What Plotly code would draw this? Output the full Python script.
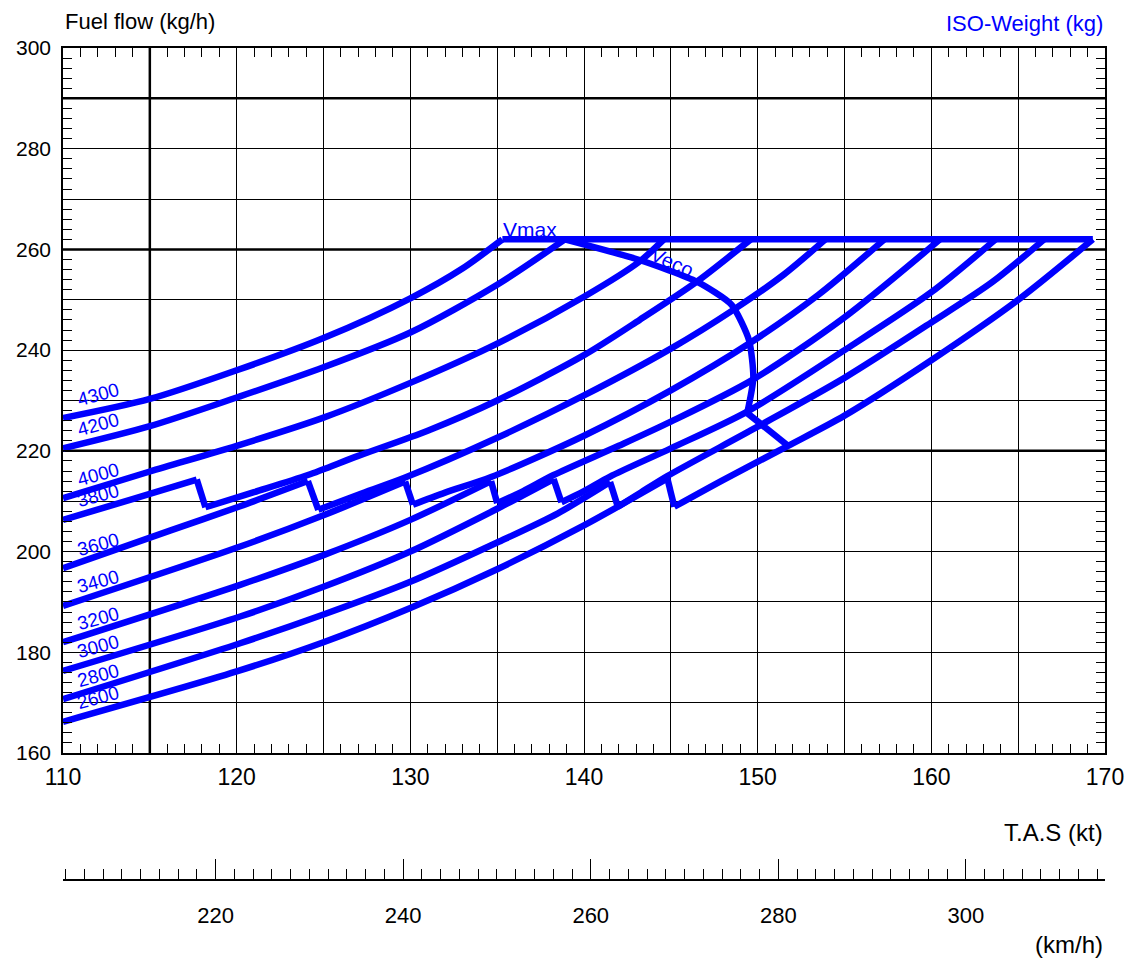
import plotly.graph_objects as go

# ---------------- data ----------------
kt_range = [110, 170]
ff_range = [160, 300]
kt_tickvals = [110, 115, 120, 125, 130, 135, 140, 145, 150, 155, 160, 165, 170]
kt_ticktext = ["110", "", "120", "", "130", "", "140", "", "150", "", "160", "", "170"]
ff_tickvals = [160, 170, 180, 190, 200, 210, 220, 230, 240, 250, 260, 270, 280, 290, 300]
ff_ticktext = ["160", "", "180", "", "200", "", "220", "", "240", "", "260", "", "280", "", "300"]
kmh_tickvals = [220, 240, 260, 280, 300]
KT_TO_KMH = 1.852

weights = ["4300", "4200", "4000", "3800", "3600", "3400", "3200", "3000", "2800", "2600"]

# iso-weight curves: low-speed part (up to the step) and high-speed part (after the step)
w4300_kt = [110, 115, 120, 125, 130, 133, 135.3]
w4300_ff = [226.5, 230.3, 236.0, 242.4, 250.3, 256.2, 262.0]

w4200_kt = [110, 115, 120, 125, 130, 135, 138.9]
w4200_ff = [220.5, 224.9, 230.6, 236.6, 243.5, 253.0, 262.0]

w4000_kt = [110, 115, 120, 125, 130, 135, 140, 143.2, 144.6]
w4000_ff = [210.6, 215.9, 221.0, 226.6, 233.5, 241.3, 250.6, 257.6, 262.0]

w3800_lo_kt = [110, 114, 117.7]
w3800_lo_ff = [206.3, 210.4, 214.3]
w3800_hi_kt = [118.2, 121, 124.1, 127, 131, 135, 140, 143.2, 146.5, 149.6]
w3800_hi_ff = [208.8, 211.8, 215.2, 219.0, 224.0, 230.0, 239.0, 246.0, 253.6, 262.0]

w3600_lo_kt = [110, 116.2, 120.2, 124.1]
w3600_lo_ff = [196.7, 204.2, 209.0, 214.0]
w3600_hi_kt = [124.7, 127, 129.7, 135, 140, 145, 148.6, 151.5, 153.9]
w3600_hi_ff = [208.3, 211.3, 214.7, 222.6, 231.0, 240.3, 248.0, 255.0, 262.0]

w3400_lo_kt = [110, 120.2, 125, 129.7]
w3400_lo_ff = [189.2, 201.0, 207.2, 213.9]
w3400_hi_kt = [130.15, 132, 134.65, 140, 145, 149.55, 153.5, 157.3]
w3400_hi_ff = [209.3, 211.7, 214.8, 223.0, 232.0, 241.4, 251.0, 262.0]

w3200_lo_kt = [110, 120.2, 125, 130, 134.65]
w3200_lo_ff = [182.0, 193.4, 199.3, 206.3, 214.0]
w3200_hi_kt = [135.0, 136.5, 138.25, 142, 145, 149.7, 155, 160.5]
w3200_hi_ff = [209.6, 212.0, 215.2, 221.0, 225.8, 234.1, 246.5, 262.0]

w3000_lo_kt = [110, 120.2, 125, 130, 135, 138.25]
w3000_lo_ff = [176.3, 187.1, 193.0, 200.0, 208.5, 214.4]
w3000_hi_kt = [138.7, 140, 141.5, 145, 149.4, 155, 160, 163.7]
w3000_hi_ff = [209.8, 212.0, 214.9, 220.5, 227.8, 240.0, 251.5, 262.0]

w2800_lo_kt = [110, 120.2, 125, 130, 135, 138.5, 141.5]
w2800_lo_ff = [170.7, 181.8, 187.5, 194.0, 201.8, 207.6, 213.8]
w2800_hi_kt = [141.95, 143.3, 144.8, 150.0, 155, 160, 163.5, 166.5]
w2800_hi_ff = [208.9, 211.8, 215.0, 224.8, 234.5, 245.5, 253.5, 262.0]

w2600_lo_kt = [110, 120, 125, 130, 135, 140, 144.8]
w2600_lo_ff = [166.2, 176.2, 182.0, 188.8, 196.5, 205.2, 214.5]
w2600_hi_kt = [145.2, 148, 151.75, 155, 160, 165, 169.3]
w2600_hi_ff = [208.9, 214.2, 221.0, 227.0, 238.0, 250.0, 262.0]

# Vmax line and Veco curve
vmax_kt = [135.3, 169.3]
vmax_ff = [262.0, 262.0]
veco_kt = [138.9, 143.2, 146.5, 148.5, 149.5, 149.75, 149.4]
veco_ff = [262.0, 257.9, 253.6, 249.0, 242.0, 234.5, 227.5]
veco_tail_kt = [149.4, 151.75]
veco_tail_ff = [227.5, 221.0]

curves = [
    ("4300", w4300_kt, w4300_ff, None, None),
    ("4200", w4200_kt, w4200_ff, None, None),
    ("4000", w4000_kt, w4000_ff, None, None),
    ("3800", w3800_lo_kt, w3800_lo_ff, w3800_hi_kt, w3800_hi_ff),
    ("3600", w3600_lo_kt, w3600_lo_ff, w3600_hi_kt, w3600_hi_ff),
    ("3400", w3400_lo_kt, w3400_lo_ff, w3400_hi_kt, w3400_hi_ff),
    ("3200", w3200_lo_kt, w3200_lo_ff, w3200_hi_kt, w3200_hi_ff),
    ("3000", w3000_lo_kt, w3000_lo_ff, w3000_hi_kt, w3000_hi_ff),
    ("2800", w2800_lo_kt, w2800_lo_ff, w2800_hi_kt, w2800_hi_ff),
    ("2600", w2600_lo_kt, w2600_lo_ff, w2600_hi_kt, w2600_hi_ff),
]

# ---------------- styling ----------------
BLUE = "#0000ff"
LW = 6.5
FONT = "Arial, Liberation Sans, sans-serif"

fig = go.Figure()

def add_line(xs, ys, shape="spline", smoothing=0.8):
    fig.add_trace(go.Scatter(x=xs, y=ys, mode="lines",
                             line=dict(color=BLUE, width=LW, shape=shape, smoothing=smoothing),
                             hoverinfo="skip", showlegend=False))

annotations = []
for name, lo_kt, lo_ff, hi_kt, hi_ff in curves:
    add_line(lo_kt, lo_ff)
    if hi_kt is not None:
        # the step between the two parts
        add_line([lo_kt[-1], hi_kt[0]], [lo_ff[-1], hi_ff[0]], shape="linear")
        add_line(hi_kt, hi_ff)
    annotations.append(dict(x=lo_kt[0], y=lo_ff[0], xref="x", yref="y", text=name,
                            showarrow=False, textangle=-15, xshift=35, yshift=24,
                            font=dict(family=FONT, size=19, color=BLUE)))

add_line(vmax_kt, vmax_ff, shape="linear")
add_line(veco_kt, veco_ff, smoothing=0.6)
add_line(veco_tail_kt, veco_tail_ff, shape="linear")

# dummy trace to activate the km/h axis
fig.add_trace(go.Scatter(x=[kt_range[0] * KT_TO_KMH, kt_range[1] * KT_TO_KMH], y=[None, None],
                         xaxis="x2", yaxis="y", mode="lines", hoverinfo="skip", showlegend=False))

annotations += [
    dict(x=vmax_kt[0], y=vmax_ff[0], xref="x", yref="y", text="Vmax", showarrow=False,
         xanchor="left", yanchor="bottom", xshift=-1, yshift=-4,
         font=dict(family=FONT, size=21, color=BLUE)),
    dict(x=veco_kt[2], y=veco_ff[2], xref="x", yref="y", text="Veco", showarrow=False,
         textangle=24, xshift=-25, yshift=20,
         font=dict(family=FONT, size=20, color=BLUE)),
    dict(x=0, y=1.0313, xref="paper", yref="paper", text="Fuel flow (kg/h)", showarrow=False,
         xanchor="left", yanchor="middle", font=dict(family=FONT, size=22, color="black")),
    dict(x=1, y=1.0300, xref="paper", yref="paper", text="ISO-Weight (kg)", showarrow=False,
         xanchor="right", yanchor="middle", font=dict(family=FONT, size=22, color=BLUE)),
    dict(x=1, y=0.0565, xref="paper", yref="paper", text="T.A.S (kt)", showarrow=False,
         xanchor="right", yanchor="middle", font=dict(family=FONT, size=24, color="black")),
    dict(x=1, y=-0.078, xref="paper", yref="paper", text="(km/h)", showarrow=False,
         xanchor="right", yanchor="middle", font=dict(family=FONT, size=24, color="black")),
]

# emphasised grid lines
shapes = []
for xv in [115]:
    shapes.append(dict(type="line", xref="x", yref="y", x0=xv, x1=xv, y0=ff_range[0], y1=ff_range[1],
                       line=dict(color="black", width=2.5), layer="below"))
for yv in [220, 260, 290]:
    shapes.append(dict(type="line", xref="x", yref="y", x0=kt_range[0], x1=kt_range[1], y0=yv, y1=yv,
                       line=dict(color="black", width=2.5), layer="below"))

main_domain_bottom = (880 - 753) / 832.0

fig.update_layout(
    width=1128, height=954,
    margin=dict(l=55, r=31, t=40, b=82, autoexpand=False),
    paper_bgcolor="white", plot_bgcolor="white",
    showlegend=False,
    font=dict(family=FONT, size=20, color="black"),
    annotations=annotations,
    shapes=shapes,
    xaxis=dict(range=kt_range, tickmode="array", tickvals=kt_tickvals, ticktext=kt_ticktext,
               showgrid=True, gridcolor="black", gridwidth=1.2, zeroline=False,
               showline=True, linecolor="black", linewidth=1.5, mirror="ticks",
               ticks="inside", ticklen=9, tickcolor="black", tickwidth=1.2,
               ticklabelstandoff=3, tickfont=dict(size=23), automargin=False,
               minor=dict(tickmode="linear", tick0=110, dtick=1, ticks="inside", ticklen=9,
                          tickcolor="black", tickwidth=1.2, showgrid=False),
               anchor="y"),
    yaxis=dict(range=ff_range, domain=[main_domain_bottom, 1], tickmode="array",
               tickvals=ff_tickvals, ticktext=ff_ticktext,
               showgrid=True, gridcolor="black", gridwidth=1.2, zeroline=False,
               showline=True, linecolor="black", linewidth=1.5, mirror="ticks",
               ticks="inside", ticklen=9, tickcolor="black", tickwidth=1.2,
               ticklabelstandoff=6, tickfont=dict(size=21), automargin=False,
               minor=dict(tickmode="linear", tick0=160, dtick=2, ticks="inside", ticklen=9,
                          tickcolor="black", tickwidth=1.2, showgrid=False),
               anchor="x"),
    xaxis2=dict(range=[kt_range[0] * KT_TO_KMH, kt_range[1] * KT_TO_KMH], overlaying="x",
                anchor="free", position=0, side="bottom",
                tickmode="array", tickvals=kmh_tickvals,
                showgrid=False, zeroline=False, showline=True, linecolor="black", linewidth=1.5,
                ticks="inside", ticklen=20, tickcolor="black", tickwidth=1.2,
                ticklabelstandoff=16, tickfont=dict(size=22), automargin=False,
                minor=dict(tickmode="linear", tick0=0, dtick=2, ticks="inside", ticklen=10,
                           tickcolor="black", tickwidth=1.2, showgrid=False)),
)

fig.write_html("out.html")
